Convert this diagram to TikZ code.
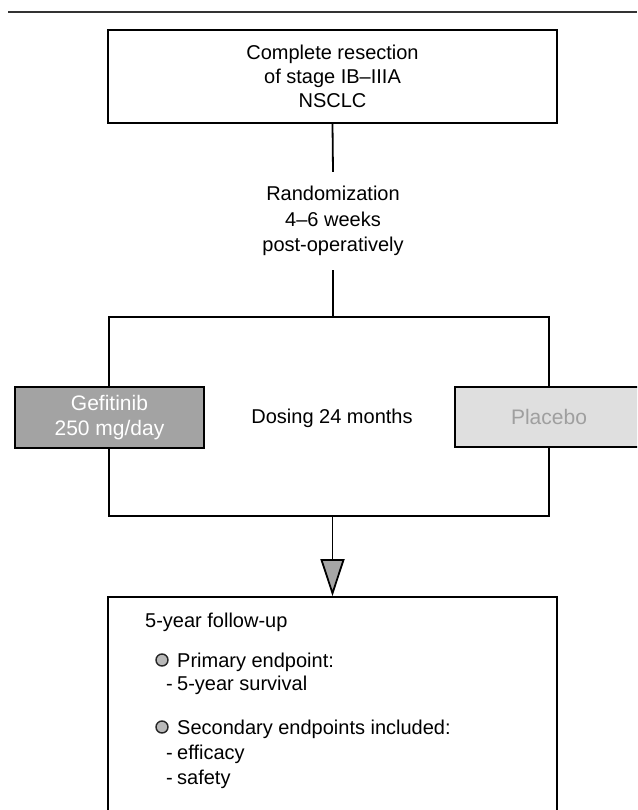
\documentclass[tikz,border=0pt]{standalone}
\usepackage{fontspec}
\setmainfont{Liberation Sans}
\usetikzlibrary{arrows.meta}

\begin{document}
\begin{tikzpicture}[x=1pt, y=-1pt,
  box/.style={draw, line width=1.8pt, rectangle, inner sep=0pt},
  txt/.style={align=center, font=\fontsize{20}{24}\selectfont},
  dot/.style={circle, draw=black!85, fill=gray!55, line width=1.4pt, minimum size=12pt, inner sep=0pt},
  item/.style={anchor=base west, inner sep=0pt, font=\fontsize{20}{24}\selectfont}]
\clip (0,0) rectangle (637,810);
%RIGA
\coordinate (r1) at (8,12);
\coordinate (r2) at (637,12);
\draw[line width=1.2pt, black!80] (r1) -- (r2);
%NODI
\node[box, txt, minimum width=449pt, minimum height=93pt] (resect) at (332.5,76.5) {Complete resection\\of stage IB--IIIA\\NSCLC};
\node[txt, font=\fontsize{20}{25.5}\selectfont, minimum height=98pt] (rand) at (333,221) {Randomization\\4--6 weeks\\post-operatively};
\node[box, minimum width=440pt, minimum height=199pt] (trial) at (329,416.5) {};
\node[txt] (dosing) at (332,418) {Dosing 24 months};
\node[box, txt, font=\fontsize{21}{25}\selectfont, fill=gray!72, text=white, minimum width=189pt, minimum height=61pt] (gef) at (109.5,417.5) {Gefitinib\\250 mg/day};
\node[box, txt, font=\fontsize{21}{25}\selectfont, fill=gray!25, text=gray!75, minimum width=188pt, minimum height=60pt] (plac) at (549,417) {Placebo};
\node[box, minimum width=449pt, minimum height=240pt] (follow) at (332.5,717) {};
%TESTO
\node[item] (fu) at (145,627) {5-year follow-up};
\node[dot] (b1) at (162,660) {};
\node[item] (prim) at (177,667) {Primary endpoint:};
\node[item] (surv) at (166,690) {\makebox[11pt][l]{-}5-year survival};
\node[dot] (b2) at (162,727) {};
\node[item] (sec) at (177,734) {Secondary endpoints included:};
\node[item] (eff) at (166,759) {\makebox[11pt][l]{-}efficacy};
\node[item] (saf) at (166,784) {\makebox[11pt][l]{-}safety};
%LINEE
\draw[line width=1.8pt] (resect.south) -- (rand.north);
\draw[line width=1.8pt] (rand.south) -- (rand.south |- trial.north);
\draw[line width=1.8pt, -{Triangle[length=37pt, width=24pt, fill=gray!70]}] (follow.north |- trial.south) -- (follow.north);
\end{tikzpicture}
\end{document}
